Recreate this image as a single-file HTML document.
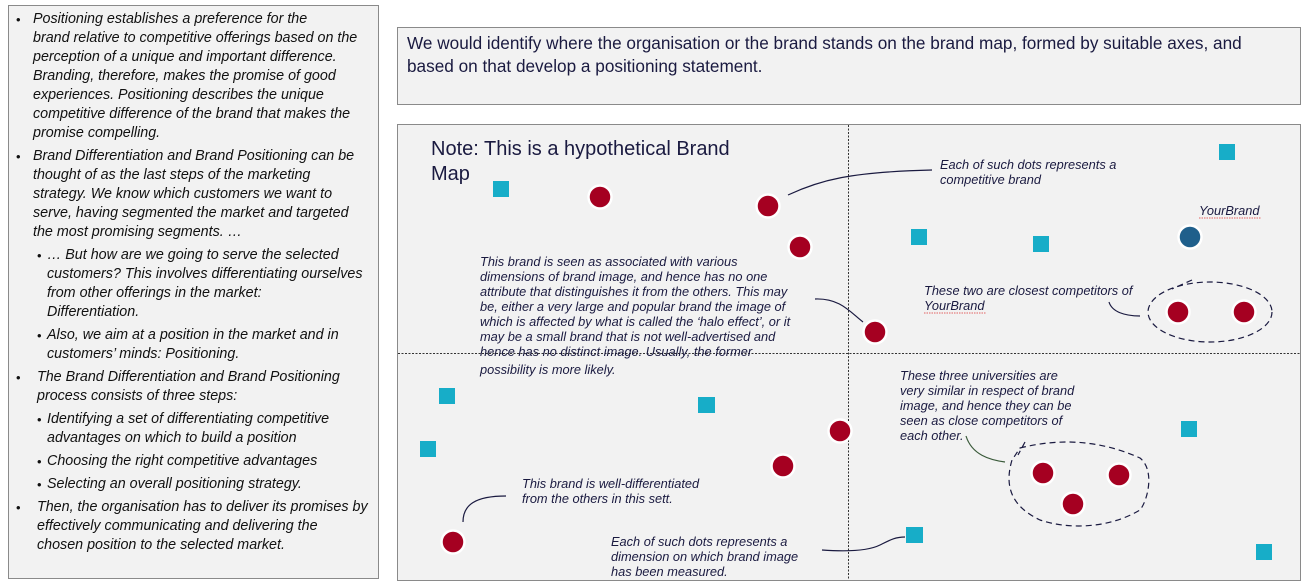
<!DOCTYPE html>
<html><head><meta charset="utf-8"><style>
body{margin:0;width:1306px;height:586px;background:#fff;position:relative;overflow:hidden;font-family:"Liberation Sans",sans-serif}
.l{position:absolute;left:8px;top:5px;width:371px;height:574px;background:#f2f2f2;border:1px solid #8a8a8a;box-sizing:border-box}
.t{position:absolute;font-style:italic;font-size:14.3px;color:#111;white-space:nowrap}
.b{position:absolute;font-size:13px;color:#111}
</style></head><body>
<div class="l"></div>
<div id="lt"></div>
<script>
var L=[[33,11,"Positioning establishes a preference for the",1],[33,30,"brand relative to competitive offerings based on the"],[33,49,"perception of a unique and important difference."],[33,68,"Branding, therefore, makes the promise of good"],[33,87,"experiences. Positioning describes the unique"],[33,106,"competitive difference of the brand that makes the"],[33,125,"promise compelling."],[33,148,"Brand Differentiation and Brand Positioning can be",1],[33,167,"thought of as the last steps of the marketing"],[33,186,"strategy. We know which customers we want to"],[33,205,"serve, having segmented the market and targeted"],[33,224,"the most promising segments. …"],[47,247,"… But how are we going to serve the selected",2],[47,266,"customers? This involves differentiating ourselves"],[47,285,"from other offerings in the market:"],[47,304,"Differentiation."],[47,327,"Also, we aim at a position in the market and in",2],[47,346,"customers’ minds: Positioning."],[37,369,"The Brand Differentiation and Brand Positioning",1],[37,388,"process consists of three steps:"],[47,411,"Identifying a set of differentiating competitive",2],[47,430,"advantages on which to build a position"],[47,453,"Choosing the right competitive advantages",2],[47,476,"Selecting an overall positioning strategy.",2],[37,499,"Then, the organisation has to deliver its promises by",1],[37,518,"effectively communicating and delivering the"],[37,537,"chosen position to the selected market."]];
var h="";L.forEach(function(a){h+='<div class="t" style="left:'+a[0]+'px;top:'+a[1]+'px">'+a[2]+'</div>';if(a[3]==1)h+='<div class="b" style="left:16px;top:'+(a[1]+1)+'px">•</div>';if(a[3]==2)h+='<div class="b" style="left:37px;top:'+(a[1]+1)+'px">•</div>';});
document.getElementById("lt").innerHTML=h;
</script>
<svg width="1306" height="586" style="position:absolute;left:0;top:0" font-family="Liberation Sans, sans-serif">
<rect x="397.5" y="27.5" width="903" height="77" fill="#f2f2f2" stroke="#8a8a8a"/>
<text x="407" y="49" font-size="17.2" fill="#1a1a40">We would identify where the organisation or the brand stands on the brand map, formed by suitable axes, and</text>
<text x="407" y="72" font-size="17.2" fill="#1a1a40">based on that develop a positioning statement.</text>
<rect x="397.5" y="124.5" width="903" height="456" fill="#f2f2f2" stroke="#8a8a8a"/>
<line x1="848.5" y1="125" x2="848.5" y2="580" stroke="#333" stroke-dasharray="2,1.5" stroke-width="1"/>
<line x1="398" y1="353.5" x2="1300" y2="353.5" stroke="#333" stroke-dasharray="2,1.5" stroke-width="1"/>
<text x="431" y="155" font-size="20" fill="#1a1a40">Note: This is a hypothetical Brand</text>
<text x="431" y="180" font-size="20" fill="#1a1a40">Map</text>
<g fill="#17adc8">
<rect x="493" y="181" width="16" height="16"/><rect x="1219" y="144" width="16" height="16"/><rect x="911" y="229" width="16" height="16"/><rect x="1033" y="236" width="16" height="16"/><rect x="439" y="388" width="16" height="16"/><rect x="698" y="397" width="17" height="16"/><rect x="420" y="441" width="16" height="16"/><rect x="1181" y="421" width="16" height="16"/><rect x="906" y="527" width="17" height="16"/><rect x="1256" y="544" width="16" height="16"/>
</g>
<g fill="#a50021" stroke="#fff" stroke-width="2.5">
<circle cx="600" cy="197" r="11.5"/><circle cx="768" cy="206" r="11.5"/><circle cx="800" cy="247" r="11.5"/><circle cx="875" cy="332" r="11.5"/><circle cx="1178" cy="312" r="11.5"/><circle cx="1244" cy="312" r="11.5"/><circle cx="840" cy="431" r="11.5"/><circle cx="783" cy="466" r="11.5"/><circle cx="453" cy="542" r="11.5"/><circle cx="1043" cy="473" r="11.5"/><circle cx="1119" cy="475" r="11.5"/><circle cx="1073" cy="504" r="11.5"/>
<circle cx="1190" cy="237" r="11.5" fill="#1f5f8b"/>
</g>
<g fill="none" stroke="#1a1a40" stroke-width="1.2">
<path d="M788 195 C820 180 850 172 932 170"/>
<path d="M815 299 C840 298 850 312 863 322"/>
<path d="M1109 302 C1112 312 1125 316 1140 316"/>
<path d="M463 522 C463 505 475 496 506 496"/>
<path d="M822 550 C850 552 870 550 880 545 C890 540 895 537 905 537"/>
<path d="M1192 280 L1172 289" stroke-dasharray="6,4"/>
<ellipse cx="1210" cy="312" rx="62" ry="30" stroke-dasharray="6,4"/>
<path d="M1020 448 C1060 438 1100 440 1140 458 C1155 470 1148 500 1140 510 C1110 528 1070 530 1040 520 C1015 508 1003 490 1012 460 Z M1025 442 L1018 455" stroke-dasharray="6,4"/>
</g>
<path d="M966 436 C972 455 990 460 1005 462" fill="none" stroke="#3a5a3a" stroke-width="1.2"/>
<g font-size="12.8" font-style="italic" fill="#1a1a40">
<text x="940" y="169">Each of such dots represents a</text>
<text x="940" y="184">competitive brand</text>
<text x="1199" y="215">YourBrand</text>
<text x="924" y="295">These two are closest competitors of</text>
<text x="924" y="310">YourBrand</text>
<text x="480" y="266">This brand is seen as associated with various</text>
<text x="480" y="281">dimensions of brand image, and hence has no one</text>
<text x="480" y="296">attribute that distinguishes it from the others. This may</text>
<text x="480" y="311">be, either a very large and popular brand the image of</text>
<text x="480" y="326">which is affected by what is called the ‘halo effect’, or it</text>
<text x="480" y="341">may be a small brand that is not well-advertised and</text>
<text x="480" y="356">hence has no distinct image. Usually, the former</text>
<text x="480" y="374">possibility is more likely.</text>
<text x="900" y="380">These three universities are</text>
<text x="900" y="395">very similar in respect of brand</text>
<text x="900" y="410">image, and hence they can be</text>
<text x="900" y="425">seen as close competitors of</text>
<text x="900" y="440">each other.</text>
<text x="522" y="488">This brand is well-differentiated</text>
<text x="522" y="503">from the others in this sett.</text>
<text x="611" y="546">Each of such dots represents a</text>
<text x="611" y="561">dimension on which brand image</text>
<text x="611" y="576">has been measured.</text>
</g>
<g stroke="#d33" stroke-width="0.8" fill="none" stroke-dasharray="1.5,1">
<line x1="1199" y1="218" x2="1261" y2="218"/><line x1="924" y1="313" x2="986" y2="313"/>
</g>
</svg>
</body></html>
